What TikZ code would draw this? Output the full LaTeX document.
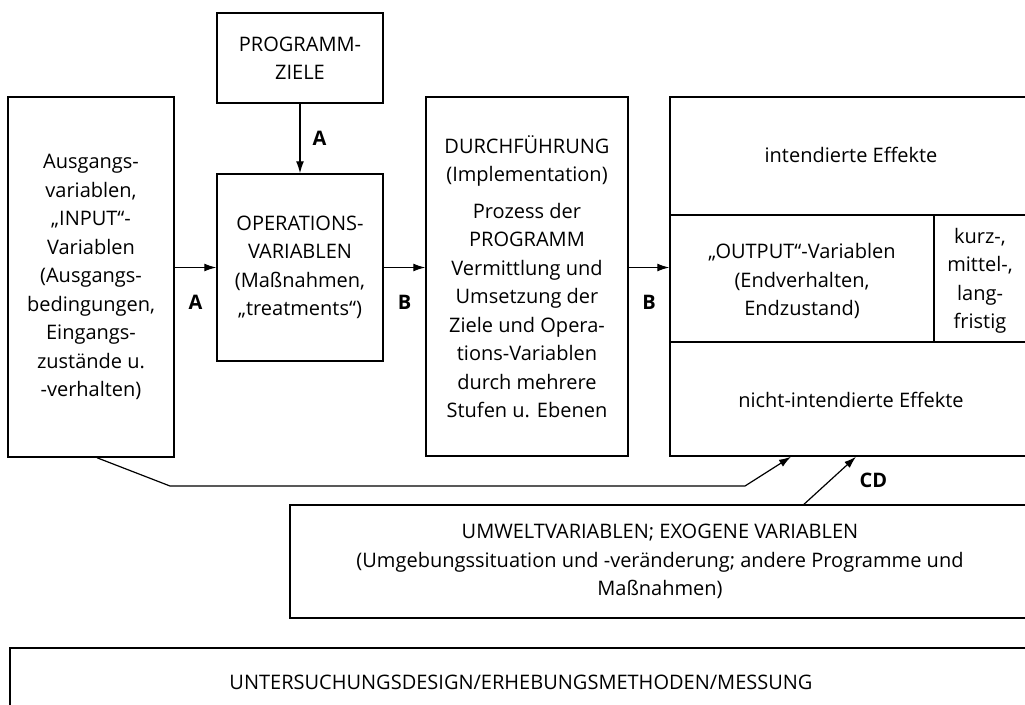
\documentclass[tikz,border=0pt]{standalone}
\usepackage{fontspec}
\setmainfont{Open Sans}
\usetikzlibrary{positioning, arrows.meta}
\newcommand{\diafont}{\fontsize{20}{28.5}\selectfont}
\tikzset{
  box/.style={draw, line width=1.5pt, inner sep=0pt, align=center},
  lbl/.style={font=\diafont\bfseries, inner sep=0pt},
  arr/.style={-{Latex[length=12pt,width=8pt]}, line width=1.2pt}
}
\begin{document}
\begin{tikzpicture}[x=1pt, y=-1pt, font=\diafont]
    \clip (0,0) rectangle (1025,704);

    \node[box, minimum width=166, minimum height=90] (ziele) at (300,58) {PROGRAMM-\\ZIELE};
    \node[box, minimum width=166, minimum height=187] (ops) at (300,267.5)
        {OPERATIONS-\\VARIABLEN\\(Maßnahmen,\\„treatments“)};
    \node[box, minimum width=166, minimum height=360] (input) at (91,277)
        {Ausgangs-\\variablen,\\„INPUT“-\\Variablen\\(Ausgangs-\\bedingungen,\\Eingangs-\\zustände u.\\-verhalten)};
    \node[box, minimum width=202, minimum height=359] (impl) at (527,276.5)
        {DURCHFÜHRUNG\\(Implementation)\\[8pt]Prozess der\\PROGRAMM\\Vermittlung und\\Umsetzung der\\Ziele und Opera-\\tions-Variablen\\durch mehrere\\Stufen u. Ebenen};
    \node[box, minimum width=362, minimum height=359] (effekte) at (851,276.5) {};
    \node[box, minimum width=740, minimum height=113] (umwelt) at (660,561.5)
        {UMWELTVARIABLEN; EXOGENE VARIABLEN\\(Umgebungssituation und -veränderung; andere Programme und\\Maßnahmen)};
    \node[box, minimum width=1022, minimum height=68] (design) at (521,682)
        {UNTERSUCHUNGSDESIGN/ERHEBUNGSMETHODEN/MESSUNG};

    % Effects box, split in three rows
    \draw[line width=1.5pt] (effekte.west |- 0,215) -- (effekte.east |- 0,215);
    \draw[line width=1.5pt] (effekte.west |- 0,342) -- (effekte.east |- 0,342);
    \draw[line width=1.5pt] (934,215) -- (934,342);
    \node (intend) at (851,155) {intendierte Effekte};
    \node[align=center] (output) at (802,281) {„OUTPUT“-Variablen\\(Endverhalten,\\Endzustand)};
    \node[align=center] (fristig) at (980,281) {kurz-,\\mittel-,\\lang-\\fristig};
    \node (nicht) at (851,400) {nicht-intendierte Effekte};

    % Arrows with labels
    \draw[arr] (ziele.south) -- node[lbl, right=12pt] {A} (ops.north);
    \draw[arr] (input.east |- ops.west) -- node[lbl, below=27pt] {A} (ops.west);
    \draw[arr] (ops.east) -- node[lbl, below=27pt] {B} (impl.west |- ops.east);
    \draw[arr] (impl.east |- ops.east) -- node[lbl, below=27pt] {B} (effekte.west |- ops.east);
    \draw[arr] ([xshift=6pt]input.south) -- (170,486) -- (745,486) -- ([xshift=-60pt]effekte.south);
    \draw[arr] ([xshift=144pt]umwelt.north) -- node[lbl, right=29pt] {CD} ([xshift=5pt]effekte.south);
\end{tikzpicture}
\end{document}
